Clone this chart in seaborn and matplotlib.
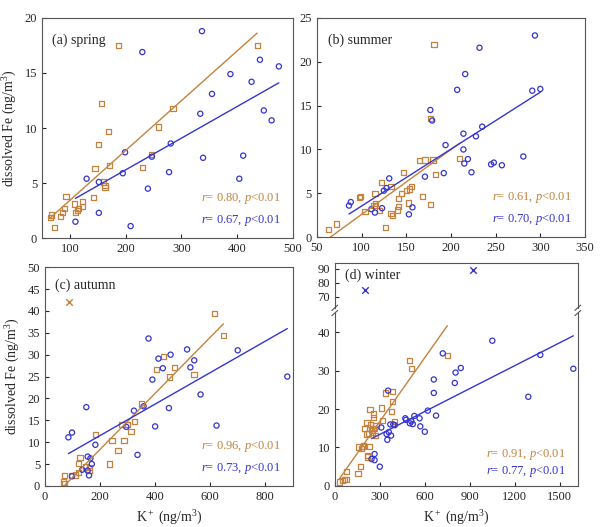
import numpy as np
import pandas as pd
import matplotlib
matplotlib.use("Agg")
import matplotlib.pyplot as plt
import seaborn as sns

sns.set_style("ticks")
plt.rcParams['font.family'] = ['Liberation Serif', 'DejaVu Serif']
plt.rcParams['mathtext.fontset'] = 'custom'
plt.rcParams['mathtext.rm'] = 'Liberation Serif'
plt.rcParams['mathtext.it'] = 'Liberation Serif:italic'

ORANGE = '#c4823e'
BLUE = '#3535d0'

# ---- data ----
spring_o_x = [65,67,73,83,87,91,93,108,110,113,116,122,123,143,145,152,157,160,163,163,170,171,187,231,246,259,285,436]
spring_o_y = [1.9,2.1,1.0,2.0,2.3,2.7,3.8,3.1,2.3,2.5,2.7,3.3,2.9,3.7,6.3,8.5,12.2,5.1,4.8,4.6,9.7,6.6,17.5,6.4,7.6,10.1,11.8,17.5]
spring_b_x = [110,130,152,152,195,199,209,230,240,247,278,281,334,337,339,355,388,404,411,426,441,448,462,475]
spring_b_y = [1.5,5.4,5.1,2.3,5.9,7.8,1.1,16.9,4.5,7.4,6.0,8.6,11.3,18.8,7.3,13.1,14.9,5.4,7.5,14.2,16.2,11.6,10.7,15.6]

summer_o_x = [63,72,98,99,104,114,115,116,120,122,127,133,133,135,140,141,141,145,147,150,153,154,156,165,168,171,177,177,180,181,183,210]
summer_o_y = [0.9,1.5,4.5,4.6,2.9,3.6,5.0,3.8,3.0,6.2,1.1,2.7,5.8,2.5,3.1,3.5,4.4,5.0,7.4,5.3,3.9,5.5,5.8,8.7,4.6,8.8,3.7,13.5,8.8,22.0,7.1,9.0]
summer_b_x = [86,88,111,115,123,125,128,131,153,157,171,177,179,192,194,207,214,214,215,216,219,223,228,232,235,245,248,257,281,291,294,300]
summer_b_y = [3.6,4.0,3.2,2.8,3.3,5.3,5.6,6.7,2.6,3.4,6.9,14.5,13.3,7.3,10.5,16.8,11.8,10.0,8.4,18.6,8.9,7.4,11.5,21.6,12.6,8.3,8.5,8.2,9.2,16.7,23.0,16.9]

autumn_o_x = [67,72,72,95,110,122,123,127,148,160,163,184,233,243,265,287,280,300,312,326,351,404,429,452,471,541,617,648]
autumn_o_y = [0.9,2.3,0.6,2.4,2.5,3.0,5.1,6.5,4.3,3.6,4.2,11.8,5.0,10.3,8.0,10.4,14.0,14.0,12.4,14.7,18.7,26.6,29.6,24.9,27.0,25.5,39.4,34.4]
autumn_out_x = [88]
autumn_out_y = [42.1]
autumn_b_x = [85,98,98,135,150,155,155,160,165,170,183,295,323,336,358,376,390,400,412,428,450,456,516,528,542,565,623,700,880]
autumn_b_y = [11.1,12.2,2.2,3.7,18.0,3.5,6.7,2.4,6.3,5.0,9.4,13.5,17.2,7.1,18.2,33.7,24.3,13.6,29.1,26.9,17.8,30.0,31.2,27.1,28.7,20.9,13.8,31.0,25.0]

winter_o_x = [30,50,65,75,80,155,160,170,180,185,190,200,215,215,220,220,225,230,235,240,245,250,255,260,260,265,270,275,310,320,340,380,385,385,400,500,510,750]
winter_o_y = [1.0,1.5,1.6,1.6,3.7,3.3,10.1,5.0,9.8,10.3,10.4,15.0,16.6,13.5,7.5,8.0,13.6,10.3,19.8,16.0,14.5,14.0,15.0,17.9,18.7,15.0,13.2,15.8,20.3,17.0,24.2,19.3,24.6,21.9,16.7,32.7,30.5,33.9]
winter_out_x = [200,920]
winter_out_y = [75,89]
winter_b_x = [245,265,265,300,310,345,350,355,360,370,375,390,400,470,475,500,510,520,530,570,565,600,620,660,660,675,720,800,805,840,1050,1290,1370,1590]
winter_b_y = [7.0,8.3,6.7,5.0,15.2,13.5,12.0,24.8,14.0,16.0,13.1,16.0,15.8,17.6,17.2,16.3,16.8,16.1,18.2,15.5,17.6,14.1,19.6,27.7,24.2,18.3,34.5,26.8,29.5,30.7,37.8,23.2,34.1,30.5]

r_labels = {'a': ('0.80', '0.67'), 'b': ('0.61', '0.70'), 'c': ('0.96', '0.73'), 'd': ('0.91', '0.77')}

fig = plt.figure(figsize=(6.0, 5.27), dpi=100)

def style(ax):
    ax.tick_params(direction='in', length=3, labelsize=9, top=False, right=False)
    for s in ax.spines.values():
        s.set_color('#555555'); s.set_linewidth(0.8)

def series(ax, ox, oy, bx, by):
    df_o = pd.DataFrame({'x': ox, 'y': oy})
    df_b = pd.DataFrame({'x': bx, 'y': by})
    sns.scatterplot(data=df_o, x='x', y='y', ax=ax, marker='s', s=14, facecolor='none',
                    edgecolor=ORANGE, linewidth=0.9)
    sns.scatterplot(data=df_b, x='x', y='y', ax=ax, marker='o', s=14, facecolor='none',
                    edgecolor=BLUE, linewidth=0.9)
    for df, c in ((df_o, ORANGE), (df_b, BLUE)):
        k, b = np.polyfit(df.x, df.y, 1)
        xs = np.array([df.x.min(), df.x.max()])
        sns.lineplot(x=xs, y=k * xs + b, ax=ax, color=c, linewidth=1.0)

def rtext(ax, key):
    ro, rb = r_labels[key]
    ax.text(0.95, 0.17, f'$r$= {ro}, $p$<0.01', color=ORANGE, transform=ax.transAxes, ha='right', fontsize=9)
    ax.text(0.95, 0.07, f'$r$= {rb}, $p$<0.01', color=BLUE, transform=ax.transAxes, ha='right', fontsize=9)

ylab = 'dissolved Fe (ng/m$^3$)'
xlab = 'K$^+$ (ng/m$^3$)'

# (a)
ax = fig.add_axes([0.070, 0.548, 0.418, 0.418])
series(ax, spring_o_x, spring_o_y, spring_b_x, spring_b_y)
ax.set_xlim(50, 500); ax.set_ylim(0, 20)
ax.set_xticks([100, 200, 300, 400, 500]); ax.set_yticks([0, 5, 10, 15, 20])
ax.set_xlabel(''); ax.set_ylabel(ylab, fontsize=10)
ax.text(0.04, 0.93, '(a) spring', transform=ax.transAxes, fontsize=10, va='top')
rtext(ax, 'a'); style(ax)

# (b)
ax = fig.add_axes([0.528, 0.550, 0.447, 0.416])
series(ax, summer_o_x, summer_o_y, summer_b_x, summer_b_y)
ax.set_xlim(50, 350); ax.set_ylim(0, 25)
ax.set_xticks([50, 100, 150, 200, 250, 300, 350]); ax.set_yticks([0, 5, 10, 15, 20, 25])
ax.set_xlabel(''); ax.set_ylabel('')
ax.text(0.04, 0.93, '(b) summer', transform=ax.transAxes, fontsize=10, va='top')
rtext(ax, 'b'); style(ax)

# (c)
ax = fig.add_axes([0.075, 0.078, 0.413, 0.415])
series(ax, autumn_o_x, autumn_o_y, autumn_b_x, autumn_b_y)
sns.scatterplot(x=autumn_out_x, y=autumn_out_y, ax=ax, marker='x', s=22, color=ORANGE, linewidth=1.0)
ax.set_xlim(0, 900); ax.set_ylim(0, 50)
ax.set_xticks([0, 200, 400, 600, 800]); ax.set_yticks(range(0, 51, 5))
ax.set_xlabel(xlab, fontsize=10); ax.set_ylabel(ylab, fontsize=10)
ax.text(0.04, 0.95, '(c) autumn', transform=ax.transAxes, fontsize=10, va='top')
rtext(ax, 'c'); style(ax)

# (d) broken axis
axu = fig.add_axes([0.558, 0.416, 0.405, 0.085])
axl = fig.add_axes([0.558, 0.078, 0.405, 0.328])
series(axl, winter_o_x, winter_o_y, winter_b_x, winter_b_y)
sns.scatterplot(x=winter_out_x, y=winter_out_y, ax=axu, marker='x', s=22, color=BLUE, linewidth=1.0)
for a in (axu, axl):
    a.set_xlim(0, 1620)
    style(a)
axu.set_ylim(62, 94); axu.set_yticks([70, 80, 90])
axl.set_ylim(0, 45); axl.set_yticks([0, 10, 20, 30, 40])
axl.set_xticks([0, 300, 600, 900, 1200, 1500])
axu.set_xticks([]); axu.spines['bottom'].set_visible(False); axl.spines['top'].set_visible(False)
axu.set_xlabel(''); axu.set_ylabel('')
axl.set_xlabel(xlab, fontsize=10); axl.set_ylabel('')
axu.text(0.04, 0.88, '(d) winter', transform=axu.transAxes, fontsize=10, va='top')
d = 0.012
kw = dict(color='#555555', clip_on=False, linewidth=0.8)
for xx in (0, 1):
    axu.plot([xx - d, xx + d], [-0.06, 0.06], transform=axu.transAxes, **kw)
    axl.plot([xx - d, xx + d], [1 - 0.015, 1 + 0.015], transform=axl.transAxes, **kw)
rtext(axl, 'd')

fig.savefig('out.png', dpi=100, facecolor='white')
